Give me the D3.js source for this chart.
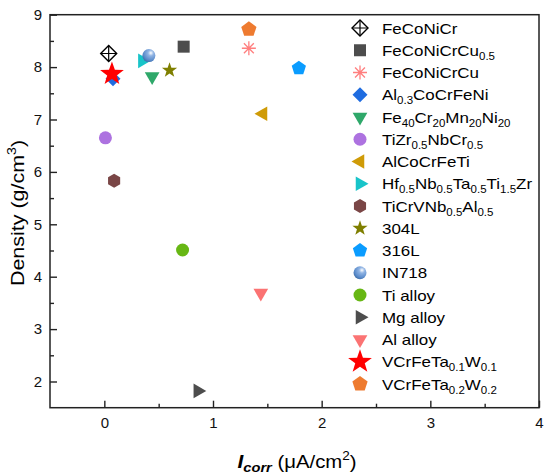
<!DOCTYPE html>
<html lang="en">
  <head>
    <meta charset="utf-8">
    <title>Density vs Icorr</title>
    <script src="https://cdn.jsdelivr.net/npm/d3@7"></script>
    <style>
      body { margin: 0; background: #fff; }
      text { font-family: "Liberation Sans", Arial, Helvetica, sans-serif; }
    </style>
  </head>
  <body>
    <script>

      /* data */
      const names = [
        "FeCoNiCr", "FeCoNiCrCu_{0.5}", "FeCoNiCrCu", "Al_{0.3}CoCrFeNi",
        "Fe_{40}Cr_{20}Mn_{20}Ni_{20}", "TiZr_{0.5}NbCr_{0.5}", "AlCoCrFeTi",
        "Hf_{0.5}Nb_{0.5}Ta_{0.5}Ti_{1.5}Zr", "TiCrVNb_{0.5}Al_{0.5}", "304L", "316L",
        "IN718", "Ti alloy", "Mg alloy", "Al alloy", "VCrFeTa_{0.1}W_{0.1}", "VCrFeTa_{0.2}W_{0.2}"
      ];
      const icorr   = [0.04, 0.73, 1.33, 0.08, 0.44, 0.01, 1.46, 0.35, 0.09, 0.60, 1.79, 0.41, 0.72, 0.86, 1.44, 0.07, 1.33];
      const density = [8.26, 8.39, 8.36, 7.78, 7.82, 6.65, 7.11, 8.12, 5.83, 7.94, 7.98, 8.22, 4.51, 1.82, 3.69, 7.87, 8.72];

      const xTicks = [0, 1, 2, 3, 4];
      const yTicks = [2, 3, 4, 5, 6, 7, 8, 9];

      /* marker look for each series: shape, colour, radius */
      const shapes = ["crossdiamond", "square", "asterisk", "diamond", "tridown", "circle", "trileft",
                      "triright", "hexagon", "star", "pentagon", "sphere", "circle", "triright",
                      "tridown", "star", "pentagon"];
      const colors = ["#000", "#4d4d4d", "#ff7f7f", "#1f6ce0", "#2fa86a", "#ad72e0", "#cf9b07",
                      "#18c4c9", "#7a4646", "#7f7f00", "#0a9cff", "#5f93d2", "#67b714", "#4d4d4d",
                      "#fb7373", "#ff0000", "#ee7b30"];
      const radii  = [8, 6, 7, 7.5, 8.5, 6.5, 8.5, 8.5, 7, 8, 7.5, 6.5, 6.5, 8.5, 8.5, 12.5, 8];

      const W = 550, H = 475;
      const PLOT_L = 50, PLOT_R = 539, PLOT_T = 14.7, PLOT_B = 407.7;
      const STRETCH = 1.13; // text in the reference is a bit wide

      const LEGEND_MARK_X = 360;
      const LEGEND_TEXT_X = 382;
      const LEGEND_TOP = 28;
      const LEGEND_STEP = 22.25;

      let svg = d3.select("body").append("svg")
        .attr("width", W)
        .attr("height", H);

      let defs = svg.append("defs");
      let grad = defs.append("radialGradient")
        .attr("id", "sphere")
        .attr("cx", "0.65").attr("cy", "0.3").attr("r", "0.75")
        .attr("fx", "0.65").attr("fy", "0.3");
      grad.append("stop").attr("offset", "0").attr("stop-color", "#ffffff");
      grad.append("stop").attr("offset", "0.3").attr("stop-color", "#8fb3e3");
      grad.append("stop").attr("offset", "0.75").attr("stop-color", "#5b8ccb");
      grad.append("stop").attr("offset", "1").attr("stop-color", "#3e6da8");

      let x = d3.scaleLinear().domain([-0.5, 4]).range([PLOT_L, PLOT_R]);
      let y = d3.scaleLinear().domain([1.5, 9]).range([PLOT_B, PLOT_T]);

      /* shapes */
      function polygon(n, r, rot){
        let pts = d3.range(n).map(function(i){
          let a = rot + i * 2 * Math.PI / n;
          return [r * Math.cos(a), r * Math.sin(a)];
        });
        return "M" + pts.map(p => p[0].toFixed(2) + "," + p[1].toFixed(2)).join("L") + "Z";
      }

      function starPath(r){
        let pts = [];
        for (let i = 0; i < 10; i++){
          let rr = i % 2 === 0 ? r : r * 0.4;
          let a = -Math.PI / 2 + i * Math.PI / 5;
          pts.push([rr * Math.cos(a), rr * Math.sin(a)]);
        }
        return "M" + pts.map(p => p[0].toFixed(2) + "," + p[1].toFixed(2)).join("L") + "Z";
      }

      function add_marker(g, cx, cy, i){
        let s = shapes[i], c = colors[i], r = radii[i];
        let m = g.append("g").attr("transform", "translate(" + cx + "," + cy + ")");
        if (s === "circle"){
          m.append("circle").attr("r", r).attr("fill", c);
        } else if (s === "sphere"){
          m.append("circle").attr("r", r).attr("fill", "url(#sphere)");
        } else if (s === "square"){
          m.append("rect").attr("x", -r).attr("y", -r).attr("width", 2 * r).attr("height", 2 * r).attr("fill", c);
        } else if (s === "diamond"){
          m.append("path").attr("d", polygon(4, r, -Math.PI / 2)).attr("fill", c);
        } else if (s === "crossdiamond"){
          m.append("path").attr("d", polygon(4, r, -Math.PI / 2))
            .attr("fill", "#fff").attr("stroke", c).attr("stroke-width", 1.4);
          m.append("path").attr("d", "M" + (-r) + ",0H" + r + "M0," + (-r) + "V" + r)
            .attr("stroke", c).attr("stroke-width", 1.2);
        } else if (s === "asterisk"){
          let d = "";
          [0, 45, 90, 135].forEach(function(deg){
            let a = deg * Math.PI / 180;
            d += "M" + (-r * Math.cos(a)).toFixed(2) + "," + (-r * Math.sin(a)).toFixed(2)
               + "L" + (r * Math.cos(a)).toFixed(2) + "," + (r * Math.sin(a)).toFixed(2);
          });
          m.append("path").attr("d", d).attr("stroke", c).attr("stroke-width", 1.3);
        } else if (s === "tridown"){
          m.append("path").attr("d", polygon(3, r, Math.PI / 2)).attr("fill", c);
        } else if (s === "trileft"){
          m.append("path").attr("d", polygon(3, r, Math.PI)).attr("fill", c);
        } else if (s === "triright"){
          m.append("path").attr("d", polygon(3, r, 0)).attr("fill", c);
        } else if (s === "hexagon"){
          m.append("path").attr("d", polygon(6, r, -Math.PI / 2)).attr("fill", c);
        } else if (s === "pentagon"){
          m.append("path").attr("d", polygon(5, r, -Math.PI / 2)).attr("fill", c);
        } else if (s === "star"){
          m.append("path").attr("d", starPath(r)).attr("fill", c);
        }
        return m;
      }

      /* text with _{sub} markup */
      function add_label(g, tx, ty, str, size){
        let t = g.append("text")
          .attr("transform", "translate(" + tx + "," + ty + ") scale(" + STRETCH + ",1)")
          .attr("font-size", size).attr("fill", "#000");
        let parts = str.split(/(_\{[^}]*\})/).filter(p => p.length);
        let shift = 0;
        parts.forEach(function(p){
          if (p.startsWith("_{")){
            t.append("tspan").attr("font-size", size * 0.68).attr("dy", 4 - shift)
              .text(p.slice(2, -1));
            shift = 4;
          } else {
            t.append("tspan").attr("dy", -shift).text(p);
            shift = 0;
          }
        });
        return t;
      }

      /* axes */
      let g_axes = svg.append("g");

      let xAxis = d3.axisBottom(x).tickValues(xTicks).tickFormat(d3.format("d"))
        .tickSizeInner(-7).tickSizeOuter(0).tickPadding(10);
      let xMinor = d3.axisBottom(x).tickValues(xTicks.slice(0, -1).map(v => v + 0.5))
        .tickSizeInner(-4).tickSizeOuter(0).tickFormat("");
      let yAxis = d3.axisLeft(y).tickValues(yTicks).tickFormat(d3.format("d"))
        .tickSizeInner(-7).tickSizeOuter(0).tickPadding(8);
      let yMinor = d3.axisLeft(y).tickValues(yTicks.slice(0, -1).map(v => v + 0.5))
        .tickSizeInner(-4).tickSizeOuter(0).tickFormat("");

      [[xAxis, "x"], [xMinor, "x"], [yAxis, "y"], [yMinor, "y"]].forEach(function(a){
        let g = g_axes.append("g")
          .attr("transform", a[1] === "x" ? "translate(0," + PLOT_B + ")" : "translate(" + PLOT_L + ",0)")
          .call(a[0]);
        g.select(".domain").remove();
        g.selectAll(".tick line").attr("stroke", "#222").attr("stroke-width", 1.4);
        g.selectAll(".tick text").attr("font-size", 15).attr("fill", "#111")
          .attr("font-family", "'Liberation Sans', Arial, sans-serif");
      });

      g_axes.append("rect")
        .attr("x", PLOT_L).attr("y", PLOT_T)
        .attr("width", PLOT_R - PLOT_L).attr("height", PLOT_B - PLOT_T)
        .attr("fill", "none").attr("stroke", "#222").attr("stroke-width", 1.5);

      /* axis titles */
      let ytitle = svg.append("text")
        .attr("transform", "translate(24,213) rotate(-90) scale(" + STRETCH + ",1)")
        .attr("text-anchor", "middle")
        .attr("font-size", 19);
      ytitle.append("tspan").text("Density (g/cm");
      ytitle.append("tspan").attr("font-size", 12.5).attr("dy", -8).text("3");
      ytitle.append("tspan").attr("dy", 8).text(")");

      let xtitle = svg.append("text")
        .attr("transform", "translate(297,468) scale(" + STRETCH + ",1)")
        .attr("text-anchor", "middle")
        .attr("font-size", 18);
      xtitle.append("tspan").attr("font-weight", "bold").attr("font-style", "italic").attr("font-size", 18.5).text("I");
      xtitle.append("tspan").attr("font-weight", "bold").attr("font-style", "italic").attr("font-size", 13).attr("dy", 4).text("corr");
      xtitle.append("tspan").attr("dy", -4).text(" (\u03bcA/cm");
      xtitle.append("tspan").attr("font-size", 12).attr("dy", -8).text("2");
      xtitle.append("tspan").attr("dy", 8).text(")");

      /* points */
      let g_points = svg.append("g");
      names.forEach(function(n, i){
        add_marker(g_points, x(icorr[i]), y(density[i]), i);
      });

      /* legend */
      let g_legend = svg.append("g");
      names.forEach(function(n, i){
        let ly = LEGEND_TOP + i * LEGEND_STEP;
        add_marker(g_legend, LEGEND_MARK_X, ly, i);
        add_label(g_legend, LEGEND_TEXT_X, ly + 5.5, n, 15);
      });

    </script>
  </body>
</html>
